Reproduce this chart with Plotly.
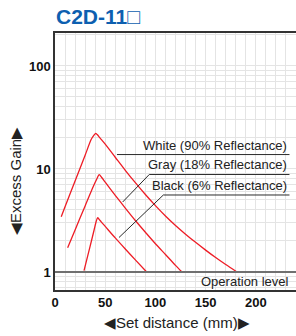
import math
import plotly.graph_objects as go

# ---- data ----
white_x = [6.2, 10, 20, 30, 36, 39, 40.5, 42, 45, 50, 60, 70, 80, 90, 100, 110, 120, 130, 140, 150, 160, 170, 181.2]
white_y = [3.44, 4.29, 7.64, 13.6, 19.3, 21.4, 22.2, 21.6, 19.9, 17.4, 13.0, 9.71, 7.36, 5.65, 4.41, 3.50, 2.83, 2.33, 1.94, 1.63, 1.38, 1.18, 1.0]

gray_x = [12.6, 20, 30, 38, 41.5, 44, 46.5, 50, 60, 70, 80, 90, 100, 110, 120, 126.5]
gray_y = [1.72, 2.56, 4.38, 6.71, 7.94, 8.81, 8.26, 7.45, 5.55, 4.17, 3.16, 2.43, 1.88, 1.48, 1.16, 1.0]

black_x = [28.9, 35, 39, 41, 42.5, 44, 46, 50, 60, 70, 80, 91.3]
black_y = [1.03, 1.78, 2.57, 3.09, 3.37, 3.24, 3.07, 2.77, 2.14, 1.67, 1.31, 1.0]

labels = ["White (90% Reflectance)", "Gray (18% Reflectance)", "Black (6% Reflectance)"]
label_x_end = 233.5
label_x_start = [61.7, 93.9, 107.9]
label_y = [13.8, 8.84, 5.59]
leader_to_x = [None, 67.4, 63.7]
leader_to_y = [None, 4.78, 2.16]

operation_level = 1.0
x_ticks = [0, 50, 100, 150, 200]
y_ticks = [1, 10, 100]
x_range = [0, 240]
y_range_log = [-0.175, 2.32]

RED = "#ee1c25"
FONT = "Liberation Sans, Arial"
fig = go.Figure()

for xs, ys in [(white_x, white_y), (gray_x, gray_y), (black_x, black_y)]:
    fig.add_trace(go.Scatter(x=xs, y=ys, mode="lines",
                             line=dict(color=RED, width=1.3, shape="spline", smoothing=0.7),
                             hoverinfo="skip", showlegend=False))

# operation level line
fig.add_trace(go.Scatter(x=x_range, y=[operation_level, operation_level], mode="lines",
                         line=dict(color="#707070", width=2), hoverinfo="skip", showlegend=False,
                         cliponaxis=False))

# label underlines and leaders
for i in range(3):
    xs = [label_x_end, label_x_start[i]]
    ys = [label_y[i], label_y[i]]
    if leader_to_x[i] is not None:
        xs.append(leader_to_x[i])
        ys.append(leader_to_y[i])
    fig.add_trace(go.Scatter(x=xs, y=ys, mode="lines",
                             line=dict(color="#2a2a2a", width=1), hoverinfo="skip", showlegend=False))
    fig.add_annotation(x=label_x_end, y=math.log10(label_y[i]), xref="x", yref="y",
                       text=labels[i], showarrow=False, xanchor="right", yanchor="bottom",
                       yshift=0, font=dict(family=FONT, size=13, color="#222"))

fig.add_annotation(x=235, y=math.log10(operation_level), xref="x", yref="y",
                   text="Operation level", showarrow=False, xanchor="right", yanchor="top",
                   yshift=0, font=dict(family=FONT, size=13, color="#222"))

# title
fig.add_annotation(x=0, y=1, xref="paper", yref="paper", text="<b>C2D-11□</b>",
                   showarrow=False, xanchor="left", yanchor="middle",
                   xshift=54 - 55, yshift=33 - 16,
                   font=dict(family=FONT, size=21, color="#0d5fb0"))

fig.update_layout(
    width=296, height=336,
    margin=dict(l=55, r=0, t=33, b=46),
    paper_bgcolor="white", plot_bgcolor="white",
    xaxis=dict(range=x_range, tickvals=x_ticks, ticktext=[str(v) for v in x_ticks],
               showgrid=True, gridcolor="#e4e4e4", gridwidth=1.3,
               minor=dict(dtick=10, showgrid=True, gridcolor="#e4e4e4", gridwidth=1.3),
               showline=True, linecolor="#333", linewidth=1.5, mirror=True,
               ticks="", zeroline=False,
               tickfont=dict(family=FONT, size=13, color="#111", weight="bold"),
               fixedrange=True),
    yaxis=dict(type="log", range=y_range_log, tickvals=y_ticks, ticktext=[str(v) for v in y_ticks],
               showgrid=True, gridcolor="#e4e4e4", gridwidth=1.3,
               minor=dict(dtick="D1", showgrid=True, gridcolor="#e4e4e4", gridwidth=1.3),
               showline=True, linecolor="#333", linewidth=1.5, mirror=False,
               ticks="", zeroline=False,
               tickfont=dict(family=FONT, size=13, color="#111", weight="bold"),
               fixedrange=True),
)

# axis titles as annotations
fig.add_annotation(x=0, y=0, xref="paper", yref="paper", text="◀Set distance (mm)▶",
                   showarrow=False, xanchor="center", yanchor="middle",
                   xshift=176.7 - 55, yshift=-(322 - 290),
                   font=dict(family=FONT, size=15, color="#222"))
fig.add_annotation(x=0, y=1, xref="paper", yref="paper", text="◀Excess Gain▶",
                   showarrow=False, textangle=-90, xanchor="center", yanchor="middle",
                   xshift=15 - 55, yshift=-(181 - 33),
                   font=dict(family=FONT, size=15, color="#222"))

fig.write_html("out.html", config={"displayModeBar": False},
               post_script="document.body.style.margin='0';document.body.style.overflow='hidden';")
